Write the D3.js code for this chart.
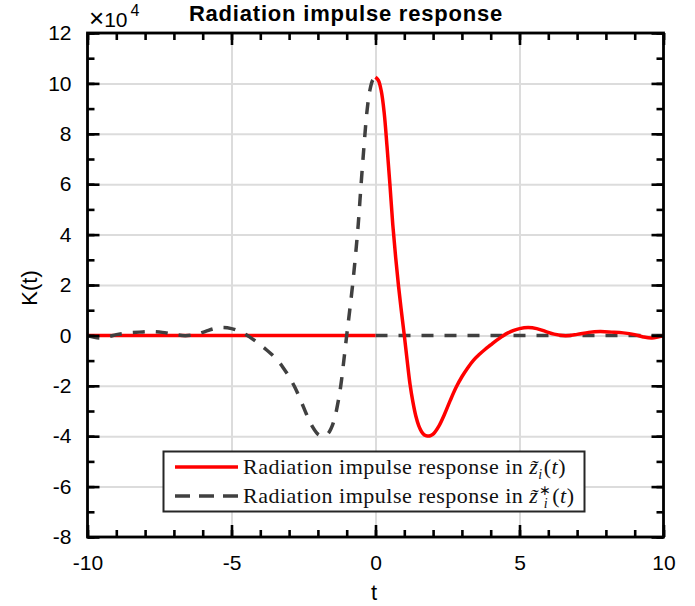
<!DOCTYPE html>
<html>
<head>
<meta charset="utf-8">
<script src="https://cdn.jsdelivr.net/npm/d3@7"></script>
<style>
  body { margin: 0; background: #fff; }
  svg { display: block; }
</style>
</head>
<body>
<div id="chart"></div>
<script>
// K(t) values are in units of 1e4
var tTilde = [0, 0.1, 0.2, 0.3, 0.4, 0.5, 0.6, 0.7, 0.8, 0.9, 1.0, 1.1, 1.2, 1.3, 1.4, 1.5, 1.6, 1.7, 1.8, 1.9,
  2.0, 2.2, 2.4, 2.6, 2.8, 3.0, 3.2, 3.4, 3.6, 3.8, 4.0, 4.2, 4.4, 4.6, 4.8, 5.0, 5.3, 5.6, 5.9, 6.2,
  6.6, 7.0, 7.4, 7.8, 8.2, 8.6, 9.0, 9.3, 9.6, 10];
var kTilde = [10.25, 10.12, 9.7, 8.85, 7.5, 6.0, 4.4, 3.1, 1.95, 0.95, 0.0, -1.0, -1.95, -2.65, -3.2, -3.58, -3.82, -3.95, -3.99, -3.98,
  -3.92, -3.6, -3.12, -2.57, -2.06, -1.64, -1.29, -0.99, -0.76, -0.56, -0.38, -0.2, -0.04, 0.1, 0.2, 0.27, 0.31, 0.27, 0.16, 0.05,
  -0.01, 0.04, 0.12, 0.15, 0.13, 0.1, 0.03, -0.06, -0.1, -0.02];
var tTildeFlat = [-10, 0];
var kTildeFlat = [0, 0];

var tStar = [-10, -9.6, -9.3, -9.0, -8.6, -8.2, -7.8, -7.4, -7.0, -6.6, -6.2, -5.9, -5.6, -5.3, -5.0, -4.8, -4.6, -4.4, -4.2, -4.0,
  -3.8, -3.6, -3.4, -3.2, -3.0, -2.8, -2.6, -2.4, -2.2, -2.0, -1.9, -1.8, -1.7, -1.6, -1.5, -1.4, -1.3, -1.2, -1.1, -1.0,
  -0.9, -0.8, -0.7, -0.6, -0.5, -0.4, -0.3, -0.2, -0.1, 0];
var kStar = [-0.02, -0.1, -0.06, 0.03, 0.1, 0.13, 0.15, 0.12, 0.04, -0.01, 0.05, 0.16, 0.27, 0.31, 0.27, 0.2, 0.1, -0.04, -0.2, -0.38,
  -0.56, -0.76, -0.99, -1.29, -1.64, -2.06, -2.57, -3.12, -3.6, -3.92, -3.98, -3.99, -3.95, -3.82, -3.58, -3.2, -2.65, -1.95, -1.0, 0.0,
  0.95, 1.95, 3.1, 4.4, 6.0, 7.5, 8.85, 9.7, 10.12, 10.25];
var tStarFlat = [0, 10];
var kStarFlat = [0, 0];

var xMajor = [-10, -5, 0, 5, 10];
var xMinor = d3.range(-10, 11, 1);
var yMajor = [-8, -6, -4, -2, 0, 2, 4, 6, 8, 10, 12];
var yMinor = d3.range(-8, 13, 1);

var legendLabels = ["tilde", "star"];

var width = 695, height = 606;
var plotLeft = 87.5, plotRight = 663.5, plotTop = 33, plotBottom = 537;

var svg = d3.select("#chart").append("svg")
  .attr("width", width)
  .attr("height", height)
  .style("font-family", "'Liberation Sans', Arial, sans-serif");

var x = d3.scaleLinear().domain([-10, 10]).range([plotLeft, plotRight]);
var y = d3.scaleLinear().domain([-8, 12]).range([plotBottom, plotTop]);
var tickFmt = function(d) { return String(d); };

svg.append("defs").append("clipPath").attr("id", "plotClip")
  .append("rect")
  .attr("x", plotLeft).attr("y", plotTop)
  .attr("width", plotRight - plotLeft).attr("height", plotBottom - plotTop);

// grid
svg.append("g")
  .attr("transform", "translate(0," + plotBottom + ")")
  .call(d3.axisBottom(x).tickValues(xMajor).tickSize(-(plotBottom - plotTop)).tickFormat(""))
  .call(function(g) {
    g.select(".domain").remove();
    g.selectAll("line").attr("stroke", "#dcdcdc").attr("stroke-width", 2);
  });
svg.append("g")
  .attr("transform", "translate(" + plotLeft + ",0)")
  .call(d3.axisLeft(y).tickValues(yMajor).tickSize(-(plotRight - plotLeft)).tickFormat(""))
  .call(function(g) {
    g.select(".domain").remove();
    g.selectAll("line").attr("stroke", "#dcdcdc").attr("stroke-width", 2);
  });

// curves
var line = d3.line()
  .x(function(d) { return x(d[0]); })
  .y(function(d) { return y(d[1]); })
  .curve(d3.curveCatmullRom.alpha(0.5));

var plot = svg.append("g").attr("clip-path", "url(#plotClip)");

var dashColor = "#404040", redColor = "#ff0000";
var dashPattern = "12,11";

plot.append("path")
  .datum(d3.zip(tStarFlat, kStarFlat))
  .attr("d", line)
  .attr("fill", "none")
  .attr("stroke", dashColor)
  .attr("stroke-width", 3.5)
  .attr("stroke-dasharray", dashPattern);

plot.append("path")
  .datum(d3.zip(tTildeFlat, kTildeFlat))
  .attr("d", line)
  .attr("fill", "none")
  .attr("stroke", redColor)
  .attr("stroke-width", 3.5);

plot.append("path")
  .datum(d3.zip(tTilde, kTilde))
  .attr("d", line)
  .attr("fill", "none")
  .attr("stroke", redColor)
  .attr("stroke-width", 3.5)
  .attr("stroke-linejoin", "round");

plot.append("path")
  .datum(d3.zip(tStar, kStar))
  .attr("d", line)
  .attr("fill", "none")
  .attr("stroke", dashColor)
  .attr("stroke-width", 3.5)
  .attr("stroke-dasharray", dashPattern);

// legend
var lg = svg.append("g");
lg.append("rect")
  .attr("x", 163.5).attr("y", 451.5)
  .attr("width", 421).attr("height", 60)
  .attr("fill", "#fff")
  .attr("stroke", "#262626")
  .attr("stroke-width", 2);

var rows = lg.selectAll("g.row")
  .data(legendLabels)
  .enter().append("g")
  .attr("class", "row")
  .attr("transform", function(d, i) { return "translate(0," + (467 + i * 29) + ")"; });

rows.append("line")
  .attr("x1", 175).attr("x2", 238)
  .attr("y1", 0).attr("y2", 0)
  .attr("stroke", function(d) { return d == "tilde" ? redColor : dashColor; })
  .attr("stroke-width", 3.5)
  .attr("stroke-dasharray", function(d) { return d == "tilde" ? null : "15,9"; });

var lt = rows.append("text")
  .attr("x", 243)
  .attr("y", 7)
  .style("font-family", "'Liberation Serif', 'Times New Roman', serif")
  .style("font-size", "22px")
  .style("letter-spacing", "0.5px")
  .attr("fill", "#111");
lt.append("tspan").text("Radiation impulse response in ");
lt.append("tspan").style("font-style", "italic").text("z\u0303");
lt.each(function(d) {
  var t = d3.select(this);
  if (d == "star") {
    t.append("tspan").attr("dx", 1).attr("dy", -8).style("font-size", "14px").text("\u2217");
    t.append("tspan").attr("dx", -8).attr("dy", 13).style("font-size", "14px").style("font-style", "italic").text("i");
    t.append("tspan").attr("dx", 4).attr("dy", -5).text("(");
  } else {
    t.append("tspan").attr("dy", 5).style("font-size", "14px").style("font-style", "italic").text("i");
    t.append("tspan").attr("dx", 1).attr("dy", -5).text("(");
  }
  t.append("tspan").style("font-style", "italic").text("t");
  t.append("tspan").text(")");
});

// axes: ticks inward on all four sides
function styleAxis(g) {
  g.select(".domain").remove();
  g.selectAll("line").attr("stroke", "#000").attr("stroke-width", 2.6);
  g.selectAll("text").attr("fill", "#000").style("font-size", "21px");
}

svg.append("g").attr("transform", "translate(0," + plotBottom + ")")
  .call(d3.axisBottom(x).tickValues(xMinor).tickSize(-7).tickFormat("")).call(styleAxis);
svg.append("g").attr("transform", "translate(0," + plotTop + ")")
  .call(d3.axisTop(x).tickValues(xMinor).tickSize(-7).tickFormat("")).call(styleAxis);
svg.append("g").attr("transform", "translate(" + plotLeft + ",0)")
  .call(d3.axisLeft(y).tickValues(yMinor).tickSize(-7).tickFormat("")).call(styleAxis);
svg.append("g").attr("transform", "translate(" + plotRight + ",0)")
  .call(d3.axisRight(y).tickValues(yMinor).tickSize(-7).tickFormat("")).call(styleAxis);

svg.append("g").attr("transform", "translate(0," + plotBottom + ")")
  .call(d3.axisBottom(x).tickValues(xMajor).tickSize(-12).tickFormat(tickFmt))
  .call(styleAxis)
  .call(function(g) { g.selectAll("text").attr("dy", "0.71em").attr("y", 18); });
svg.append("g").attr("transform", "translate(0," + plotTop + ")")
  .call(d3.axisTop(x).tickValues(xMajor).tickSize(-12).tickFormat("")).call(styleAxis);
svg.append("g").attr("transform", "translate(" + plotLeft + ",0)")
  .call(d3.axisLeft(y).tickValues(yMajor).tickSize(-12).tickFormat(tickFmt))
  .call(styleAxis)
  .call(function(g) { g.selectAll("text").attr("x", -16); });
svg.append("g").attr("transform", "translate(" + plotRight + ",0)")
  .call(d3.axisRight(y).tickValues(yMajor).tickSize(-12).tickFormat("")).call(styleAxis);

// box
svg.append("rect")
  .attr("x", plotLeft).attr("y", plotTop)
  .attr("width", plotRight - plotLeft).attr("height", plotBottom - plotTop)
  .attr("fill", "none")
  .attr("stroke", "#000")
  .attr("stroke-width", 2.8);

// labels
svg.append("text")
  .attr("x", 346).attr("y", 21)
  .attr("text-anchor", "middle")
  .style("font-size", "22px")
  .style("font-weight", "bold")
  .style("letter-spacing", "0.8px")
  .text("Radiation impulse response");

var expo = svg.append("text").attr("x", 89).attr("y", 27).style("font-size", "21px");
expo.append("tspan").style("font-size", "26px").text("\u00d7");
expo.append("tspan").text("10");
expo.append("tspan").attr("dx", 3).attr("dy", -11).style("font-size", "16px").text("4");

svg.append("text")
  .attr("x", 374).attr("y", 600)
  .attr("text-anchor", "middle")
  .style("font-size", "22px")
  .text("t");

svg.append("text")
  .attr("transform", "translate(37,288) rotate(-90)")
  .attr("text-anchor", "middle")
  .style("font-size", "22px")
  .text("K(t)");
</script>
</body>
</html>
